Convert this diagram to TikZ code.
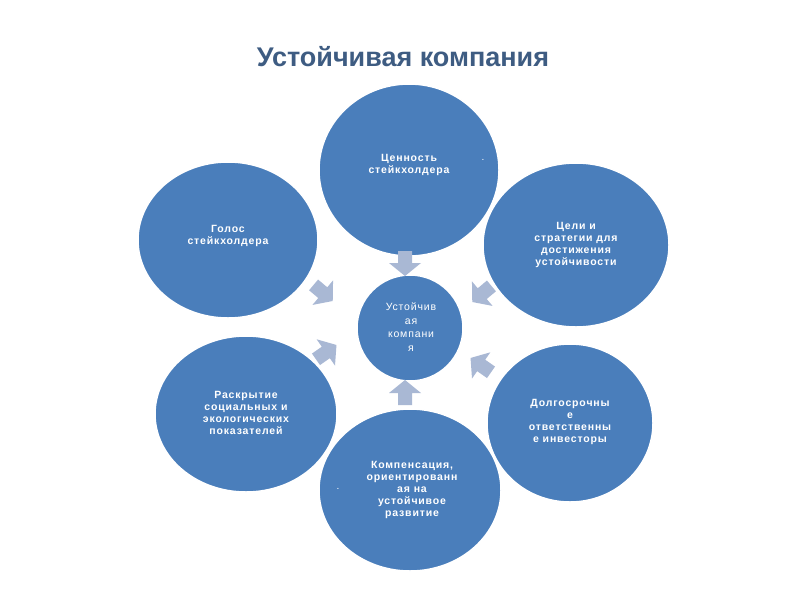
\documentclass[tikz,border=0pt]{standalone}
\usepackage{fontspec}
\setmainfont{Liberation Sans}
\newfontfamily\spaced[LetterSpace=8]{Liberation Sans}
\begin{document}
\begin{tikzpicture}[x=1pt,y=-1pt,
  bub/.style={ellipse,draw=white,line width=1.5pt,fill=blobblue,minimum width=#1,inner sep=0pt},
  btxt/.style={text=white,align=center,font=\spaced\bfseries\fontsize{10.5}{12}\selectfont},
  arr/.style={fill=arrgray,draw=none}]
\definecolor{blobblue}{HTML}{4A7EBB}
\definecolor{arrgray}{HTML}{A9B8D4}
\definecolor{titleblue}{HTML}{3E5C82}
\pgfdeclareshape{ellipse}{\inheritsavedanchors[from=circle]\inheritanchorborder[from=circle]\inheritanchor[from=circle]{center}\inheritbackgroundpath[from=circle]}
\useasboundingbox[fill=white] (0,0) rectangle (800,600);
\node (title) at (403,57) {\fontsize{27}{30}\selectfont\bfseries\color{titleblue}Устойчивая компания};
\def\ell#1#2#3#4#5{\fill[blobblue,draw=white,line width=1.5pt] (#2,#3) ellipse [x radius=#4, y radius=#5]; \coordinate (#1) at (#2,#3);}
\ell{a}{409}{170}{90}{86}
\ell{b}{228}{240}{90}{78}
\ell{c}{576}{245}{93}{82}
\ell{d}{246}{414}{91}{78}
\ell{e}{570}{423}{83}{79}
\ell{f}{410}{490}{91}{81}
\ell{m}{410}{328}{53}{53}
\node[btxt] (at) at (409,165) {Ценность\\стейкхолдера};
\node[text=white] (ad) at (483,160) {.};
\node[btxt] (bt) at (228,236) {Голос\\стейкхолдера};
\node[btxt] (ct) at (576,245) {Цели и\\стратегии для\\достижения\\устойчивости};
\node[btxt] (dt) at (246,413) {Раскрытие\\социальных и\\экологических\\показателей};
\node[btxt] (et) at (570,422) {Долгосрочны\\е\\ответственны\\е инвесторы};
\node[btxt] (ft) at (412,490) {Компенсация,\\ориентированн\\ая на\\устойчивое\\развитие};
\node[text=white] (fd) at (338,489) {.};
\node[text=white,align=center,font=\spaced\fontsize{10.5}{13.5}\selectfont] (mt) at (411,327) {Устойчив\\ая\\компани\\я};
\foreach \x/\y/\r in {405/262/-90, 322/292/-40, 483/293/-140, 325/353/35, 482/366/145, 405/394/90}{
  \fill[arrgray,shift={(\x,\y)},rotate=\r] (-11,-7) -- (1,-7) -- (1,-16) -- (14,0) -- (1,16) -- (1,7) -- (-11,7) -- cycle;
}
\end{tikzpicture}
\end{document}
